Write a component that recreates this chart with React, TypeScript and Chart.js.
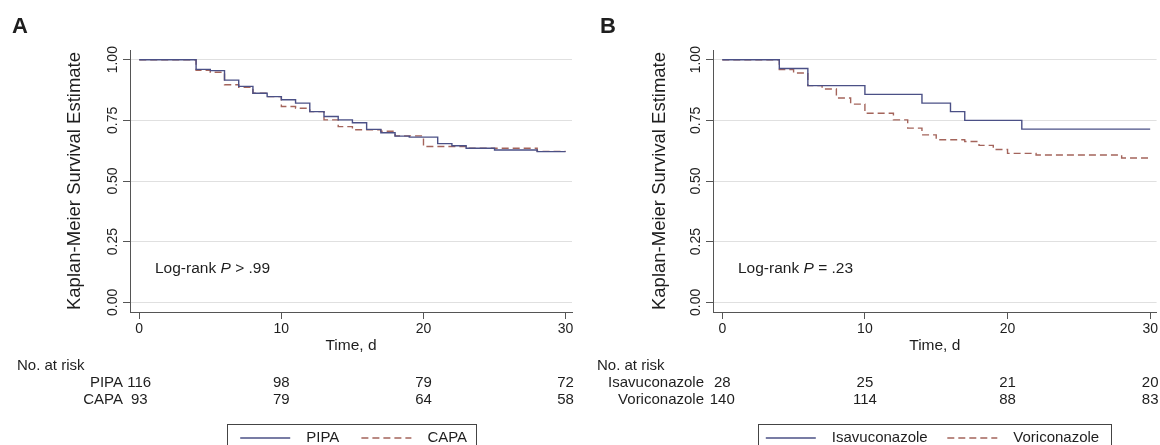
import React, { useEffect, useRef } from 'react';
import { Chart, registerables } from 'chart.js';

Chart.register(...registerables);

const FONT = "'Liberation Sans', Arial, Helvetica, sans-serif";
const INK = '#1e1e1e';
const AXIS = '#555555';
const GRID = '#e0e0e0';
const SOLID = '#4b5086';
const DASHED = '#a4645b';

// Axis ticks
const xTicks = [0, 10, 20, 30];
const yTicks = [0, 0.25, 0.5, 0.75, 1];
const riskTimes = [0, 10, 20, 30];

// Panel A: PIPA vs CAPA (Kaplan-Meier steps)
const pipaTimes = [0, 4, 5, 6, 7, 8, 9, 10, 11, 12, 13, 14, 15, 16, 17, 18, 19, 21, 22, 23, 25, 28, 30];
const pipaSurv = [1, 0.96, 0.955, 0.916, 0.89, 0.862, 0.848, 0.835, 0.821, 0.786, 0.766, 0.752, 0.74, 0.713, 0.699, 0.685, 0.681, 0.654, 0.645, 0.635, 0.628, 0.621, 0.621];
const capaTimes = [0, 4, 5, 6, 7, 8, 9, 10, 11, 12, 13, 14, 15, 17, 18, 20, 23, 28, 30];
const capaSurv = [1, 0.956, 0.948, 0.897, 0.886, 0.862, 0.848, 0.807, 0.8, 0.786, 0.752, 0.724, 0.711, 0.705, 0.686, 0.642, 0.635, 0.622, 0.622];
const pipaRisk = [116, 98, 79, 72];
const capaRisk = [93, 79, 64, 58];

// Panel B: Isavuconazole vs Voriconazole
const isaTimes = [0, 4, 6, 10, 14, 16, 17, 21, 30];
const isaSurv = [1, 0.964, 0.893, 0.857, 0.821, 0.786, 0.75, 0.714, 0.714];
const voriTimes = [0, 4, 5, 6, 7, 8, 9, 10, 12, 13, 14, 15, 17, 18, 19, 20, 22, 28, 30];
const voriSurv = [1, 0.959, 0.945, 0.893, 0.879, 0.842, 0.817, 0.779, 0.752, 0.718, 0.69, 0.67, 0.663, 0.647, 0.63, 0.614, 0.607, 0.595, 0.595];
const isaRisk = [28, 25, 21, 20];
const voriRisk = [140, 114, 88, 83];

type Group = { name: string; times: number[]; surv: number[]; risk: number[]; color: string; dash: number[] };
type Panel = {
  letter: string;
  letterX: number;
  pRel: string;
  groups: Group[];
  yWidth: number;
  padRight: number;
  yTitlePad: number;
  legendWidth: number;
  riskLabelRight: number;
};

const panels: Panel[] = [
  {
    letter: 'A',
    letterX: 20,
    pRel: ' > .99',
    groups: [
      { name: 'PIPA', times: pipaTimes, surv: pipaSurv, risk: pipaRisk, color: SOLID, dash: [] },
      { name: 'CAPA', times: capaTimes, surv: capaSurv, risk: capaRisk, color: DASHED, dash: [7, 4] },
    ],
    yWidth: 130,
    padRight: 8,
    yTitlePad: 64,
    legendWidth: 249,
    riskLabelRight: 123,
  },
  {
    letter: 'B',
    letterX: 28,
    pRel: ' = .23',
    groups: [
      { name: 'Isavuconazole', times: isaTimes, surv: isaSurv, risk: isaRisk, color: SOLID, dash: [] },
      { name: 'Voriconazole', times: voriTimes, surv: voriSurv, risk: voriRisk, color: DASHED, dash: [7, 4] },
    ],
    yWidth: 133,
    padRight: 3,
    yTitlePad: 69,
    legendWidth: 353,
    riskLabelRight: 124,
  },
];

function extrasPlugin(panel: Panel) {
  return {
    id: 'kmExtras',
    afterDraw(chart: any) {
      const ctx = chart.ctx;
      const area = chart.chartArea;
      const xs = chart.scales.x;
      ctx.save();
      ctx.fillStyle = INK;
      ctx.textBaseline = 'middle';

      // Panel letter
      ctx.font = `bold 22px ${FONT}`;
      ctx.textAlign = 'center';
      ctx.fillText(panel.letter, panel.letterX, 27);

      // Log-rank annotation
      ctx.textAlign = 'left';
      let tx = area.left + 25;
      const ty = 269;
      ctx.font = `15.5px ${FONT}`;
      ctx.fillText('Log-rank ', tx, ty);
      tx += ctx.measureText('Log-rank ').width;
      ctx.font = `italic 15.5px ${FONT}`;
      ctx.fillText('P', tx, ty);
      tx += ctx.measureText('P').width;
      ctx.font = `15.5px ${FONT}`;
      ctx.fillText(panel.pRel, tx, ty);

      // Numbers at risk
      ctx.font = `15px ${FONT}`;
      ctx.textAlign = 'left';
      ctx.fillText('No. at risk', 17, 366);
      panel.groups.forEach((g, gi) => {
        const ry = 383 + gi * 17;
        ctx.textAlign = 'right';
        ctx.fillText(g.name, panel.riskLabelRight, ry);
        ctx.textAlign = 'center';
        g.risk.forEach((n, i) => {
          ctx.fillText(String(n), xs.getPixelForValue(riskTimes[i]), ry);
        });
      });

      // Legend box
      const cx = (area.left + area.right) / 2;
      const bw = panel.legendWidth;
      const bx = Math.round(cx - bw / 2) + 0.5;
      const by = 424.5;
      ctx.strokeStyle = '#444';
      ctx.lineWidth = 1;
      ctx.strokeRect(bx, by, bw, 40);
      const colW = bw / 2;
      const lineLen = 50;
      const gap = 16;
      const ly = 438;
      panel.groups.forEach((g, gi) => {
        ctx.font = `15px ${FONT}`;
        const tw = ctx.measureText(g.name).width;
        const groupW = lineLen + gap + tw;
        const colLeft = bx + gi * colW;
        const start = colLeft + (colW - groupW) / 2;
        ctx.strokeStyle = g.color;
        ctx.lineWidth = 1.4;
        ctx.setLineDash(g.dash);
        ctx.beginPath();
        ctx.moveTo(start, ly);
        ctx.lineTo(start + lineLen, ly);
        ctx.stroke();
        ctx.setLineDash([]);
        ctx.textAlign = 'left';
        ctx.fillStyle = INK;
        ctx.fillText(g.name, start + lineLen + gap, ly);
      });
      ctx.restore();
    },
  };
}

function KMPanel({ panel }: { panel: Panel }) {
  const ref = useRef<HTMLCanvasElement | null>(null);
  useEffect(() => {
    if (!ref.current) return;
    const datasets = panel.groups.map((g, gi) => ({
      label: g.name,
      data: g.times.map((t, i) => ({ x: t, y: g.surv[i] })),
      borderColor: g.color,
      backgroundColor: g.color,
      borderWidth: 1.4,
      borderDash: g.dash,
      stepped: 'before' as const,
      pointRadius: 0,
      fill: false,
      order: gi === 0 ? 0 : 1,
    }));
    const chart = new Chart(ref.current, {
      type: 'line',
      data: { datasets },
      options: {
        responsive: false,
        animation: false,
        events: [],
        layout: { padding: { left: 0, top: 50, right: panel.padRight, bottom: 0 } },
        plugins: { legend: { display: false }, tooltip: { enabled: false } },
        scales: {
          x: {
            type: 'linear',
            min: -0.65,
            max: 30.45,
            afterBuildTicks: (s: any) => {
              s.ticks = xTicks.map((v) => ({ value: v }));
            },
            afterFit: (s: any) => {
              s.height = 133;
            },
            grid: { drawOnChartArea: false, drawTicks: true, tickLength: 7, tickColor: AXIS, color: AXIS },
            border: { display: true, color: AXIS, width: 1 },
            ticks: {
              padding: 2,
              autoSkip: false,
              maxRotation: 0,
              color: INK,
              font: { size: 14, family: FONT },
              callback: (v: any) => String(v),
            },
            title: {
              display: true,
              text: 'Time, d',
              color: INK,
              font: { size: 15.5, family: FONT },
              padding: { top: 0, bottom: 90 },
            },
          },
          y: {
            type: 'linear',
            min: -0.04,
            max: 1.04,
            afterBuildTicks: (s: any) => {
              s.ticks = yTicks.map((v) => ({ value: v }));
            },
            afterFit: (s: any) => {
              s.width = panel.yWidth;
            },
            grid: { color: GRID, tickColor: AXIS, tickLength: 7, lineWidth: 1 },
            border: { display: true, color: AXIS, width: 1 },
            ticks: {
              minRotation: 90,
              maxRotation: 90,
              crossAlign: 'center',
              padding: -4,
              color: INK,
              font: { size: 14, family: FONT },
              callback: (v: any) => Number(v).toFixed(2),
            },
            title: {
              display: true,
              text: 'Kaplan-Meier Survival Estimate',
              color: INK,
              font: { size: 18.5, family: FONT },
              padding: { top: panel.yTitlePad, bottom: 0 },
            },
          },
        },
      } as any,
      plugins: [extrasPlugin(panel)],
    });
    return () => chart.destroy();
  }, [panel]);
  return <canvas ref={ref} width={580} height={445} style={{ display: 'block', width: 580, height: 445 }} />;
}

export default function App() {
  return (
    <div
      style={{
        position: 'absolute',
        left: 0,
        top: 0,
        width: 1160,
        height: 445,
        display: 'flex',
        background: '#fff',
        overflow: 'hidden',
      }}
    >
      {panels.map((p) => (
        <KMPanel key={p.letter} panel={p} />
      ))}
    </div>
  );
}
